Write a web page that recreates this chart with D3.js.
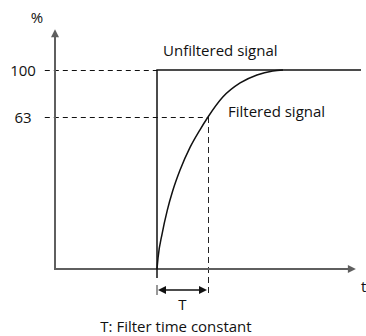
<!DOCTYPE html>
<html><head><meta charset="utf-8">
<script src="https://cdn.jsdelivr.net/npm/d3@7"></script>
<style>html,body{margin:0;padding:0;background:#fff;}svg{display:block;}</style>
</head><body>
<svg id="chart" width="366" height="336"></svg>
<script>
// ---- data ----
const yTickValues = [100, 63];
const yTickLabels = ["100", "63"];
const stepT = [0, 0, 4];          // unfiltered step (time in units of T)
const stepV = [0, 100, 100];
const filteredT = [0, 0.02, 0.1, 0.2, 0.31, 0.45, 0.65, 0.84, 1.0, 1.29, 1.63, 1.96, 2.27, 2.47];
const filteredV = [0, 4.6, 14.6, 24.2, 32.5, 40.9, 50.5, 57.6, 63, 78.7, 89.8, 96.1, 99.2, 100];
const timeConstant = 1;
const labels = { y: "%", x: "t", unf: "Unfiltered signal", filt: "Filtered signal", T: "T", note: "T: Filter time constant" };

// ---- scales ----
const x = d3.scaleLinear().domain([0, 1]).range([157, 208]);
const y = d3.scaleLinear().domain([0, 63, 100]).range([269, 117, 70]);
const tAxisStart = -2, tAxisEnd = 3.9, vAxisTop = 132;

const svg = d3.select("#chart");
const font = "'Open Sans', 'Liberation Sans', Arial, sans-serif";
const fs = 15;
const axisCol = "#5f5f5f";
const ink = "#111";

// dashed reference lines
yTickValues.forEach((v, i) => {
  const tEnd = v === 100 ? 0 : timeConstant;
  svg.append("line")
    .attr("x1", x(-2.2)).attr("x2", x(tEnd))
    .attr("y1", y(v) + 0.5).attr("y2", y(v) + 0.5)
    .attr("stroke", "#111").attr("stroke-width", 1).attr("stroke-dasharray", "5,4");
  svg.append("text")
    .attr("x", 23).attr("y", y(v) + 5.5)
    .attr("text-anchor", "middle")
    .attr("font-family", font).attr("font-size", fs).attr("fill", ink)
    .text(yTickLabels[i]);
});
// vertical dashed at T
svg.append("line")
  .attr("x1", x(timeConstant) + 0.5).attr("x2", x(timeConstant) + 0.5)
  .attr("y1", y(63)).attr("y2", y(0) + 26)
  .attr("stroke", "#222").attr("stroke-width", 1).attr("stroke-dasharray", "6,4");

// axes
svg.append("path")
  .attr("d", `M${x(tAxisStart)},${y(vAxisTop) + 6}V${y(0)}H${x(tAxisEnd) - 6}`)
  .attr("fill", "none").attr("stroke", axisCol).attr("stroke-width", 2);
svg.append("path")
  .attr("d", `M${x(tAxisStart)},${y(vAxisTop)}l-4,8h8z`)
  .attr("fill", axisCol);
svg.append("path")
  .attr("d", `M${x(tAxisEnd)},${y(0)}l-8,-4v8z`)
  .attr("fill", axisCol);

// unfiltered step
const stepLine = d3.line().x((d, i) => x(stepT[i])).y((d, i) => y(stepV[i]));
svg.append("path").datum(stepT)
  .attr("d", stepLine)
  .attr("fill", "none").attr("stroke", ink).attr("stroke-width", 1.5);
// continuation of t=0 marker below axis
svg.append("line")
  .attr("x1", x(0)).attr("x2", x(0))
  .attr("y1", y(0)).attr("y2", y(0) + 9)
  .attr("stroke", ink).attr("stroke-width", 1.5);
svg.append("line")
  .attr("x1", x(0)).attr("x2", x(0))
  .attr("y1", y(0) + 16).attr("y2", y(0) + 26)
  .attr("stroke", "#333").attr("stroke-width", 1);

// filtered curve
const fLine = d3.line().x((d, i) => x(filteredT[i])).y((d, i) => y(filteredV[i])).curve(d3.curveMonotoneX);
svg.append("path").datum(filteredT)
  .attr("d", fLine)
  .attr("fill", "none").attr("stroke", ink).attr("stroke-width", 1.5);

// T double arrow
const ay = y(0) + 21;
svg.append("line")
  .attr("x1", x(0) + 6).attr("x2", x(timeConstant) - 6)
  .attr("y1", ay).attr("y2", ay)
  .attr("stroke", ink).attr("stroke-width", 1.5);
svg.append("path").attr("d", `M${x(0) + 1},${ay}l8,-4v8z`).attr("fill", ink);
svg.append("path").attr("d", `M${x(timeConstant) - 1},${ay}l-8,-4v8z`).attr("fill", ink);

// texts
const txt = (tx, ty, s, anchor) => svg.append("text")
  .attr("x", tx).attr("y", ty).attr("text-anchor", anchor || "start")
  .attr("font-family", font).attr("font-size", fs).attr("fill", ink).text(s);
txt(37, 23, labels.y, "middle");
txt(163, 56, labels.unf);
txt(228, 117, labels.filt);
txt(361, 292, labels.x);
txt((x(0) + x(timeConstant)) / 2, 310, labels.T, "middle");
txt(176, 332, labels.note, "middle");
</script>
</body></html>
